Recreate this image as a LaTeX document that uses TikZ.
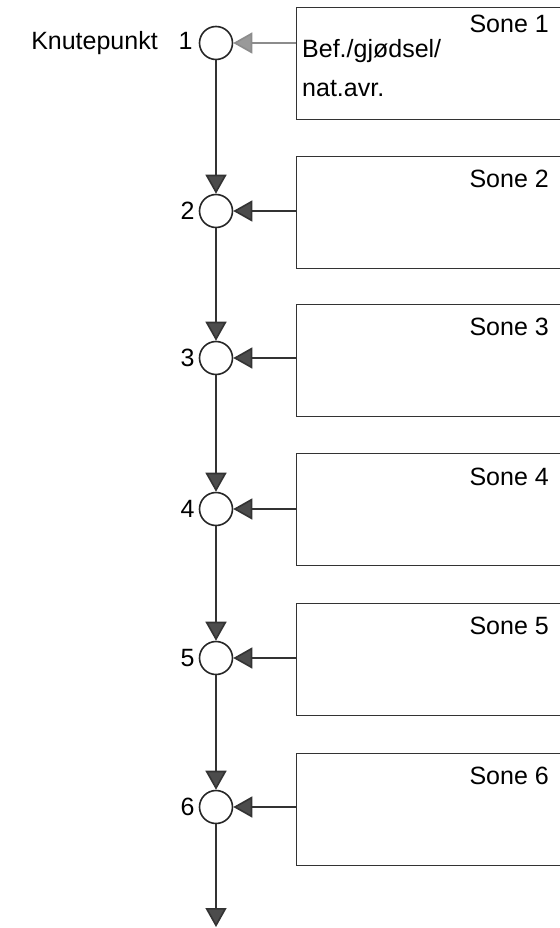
\documentclass[tikz,border=0pt]{standalone}
\usepackage{fontspec}
\setmainfont{Liberation Sans}
\usetikzlibrary{arrows.meta}

\tikzset{
  knute/.style={circle,draw=black!85,line width=1.6pt,minimum size=33pt,inner sep=0pt},
  sonebox/.style={draw=black!80,line width=1.4pt,anchor=north west,
                  minimum width=280pt,minimum height=112pt},
  flow/.style={draw=black!80,line width=1.6pt,
               -{Triangle[length=19pt,width=21pt,fill=black!70]}},
  lbl/.style={font=\fontsize{25}{30}\selectfont,inner sep=0pt},
}

\begin{document}
\begin{tikzpicture}[x=1pt,y=-1pt]
    \useasboundingbox (0,0) rectangle (559,928);
    % knutepunkt og soner
    \foreach \i/\ky/\by/\ty in {1/43/7/33,2/211/156/187,3/358/304/335,4/509/453/485,5/658/603/634,6/807/753/784}{
        \node [knute] (k\i) at (216,\ky) {};
        \node [sonebox] (s\i) at (296,\by) {};
        \node [lbl,anchor=base east] (t\i) at (549,\ty) {Sone \i};
    }
    \foreach \i in {2,...,6}
        \node [lbl,anchor=east] (n\i) at ([xshift=-4pt]k\i.west) {\i};
    \node [lbl,anchor=east] (n1) at ([xshift=-6pt]k1.west) {Knutepunkt\ \ \ 1};
    \node [lbl,anchor=base west] (b1) at (302,58) {Bef./gjødsel/};
    \node [lbl,anchor=base west] (b2) at (302,97) {nat.avr.};

    % tilfoersel fra sonene
    \draw [flow,draw=black!45,-{Triangle[length=19pt,width=21pt,fill=black!40]}]
          (k1 -| s1.west) -- (k1);
    \foreach \i in {2,...,6}
        \draw [flow] (k\i -| s\i.west) -- (k\i);

    % vassdraget
    \coordinate (ut) at (216,927);
    \draw [flow] (k1) -- (k2);
    \draw [flow] (k2) -- (k3);
    \draw [flow] (k3) -- (k4);
    \draw [flow] (k4) -- (k5);
    \draw [flow] (k5) -- (k6);
    \draw [flow] (k6) -- (ut);
\end{tikzpicture}
\end{document}
